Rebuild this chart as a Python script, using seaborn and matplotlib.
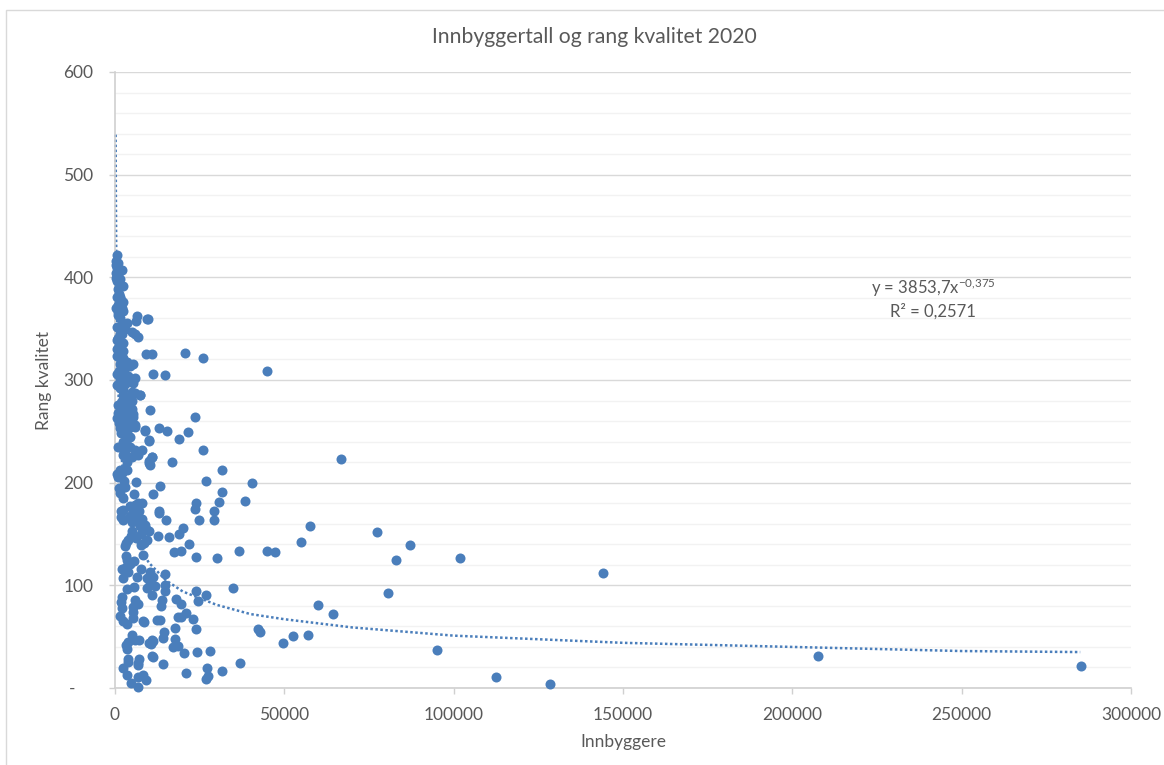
import matplotlib
matplotlib.use("Agg")
import matplotlib.pyplot as plt
from matplotlib.patches import Rectangle
from matplotlib.ticker import MultipleLocator, FuncFormatter
import seaborn as sns
import pandas as pd

# store kommuner
store_x = [285300, 207500, 144000, 128500, 112500, 101800, 95000, 87000, 83000, 80500,
           77500, 66700, 64500, 60000, 57500, 57000, 55000, 52500, 49500, 47300,
           45000, 45000, 42700, 42300, 38400, 40500, 37000, 36500, 34800, 31700,
           31500, 30800, 31500, 29300, 29300, 30000, 28000, 27000, 27200, 27500,
           27000, 27000, 26000, 26000, 20700, 23500, 21500, 18800, 15500, 13000,
           14800, 11200, 11000, 9300, 9400, 10300, 7300, 16900, 24000, 23700,
           24900, 24000, 15000, 13000, 13000, 13300, 11300, 11000, 10300, 10000,
           10000, 8800, 16000, 12700, 20000, 19000, 17400, 19500, 21800, 14800,
           14800, 14800, 24000, 24500, 18000, 19500, 21000, 19500, 18700, 23000,
           24000, 17700, 17700, 14500, 14200, 12500, 13300, 13500, 14000, 18700,
           17000, 20500, 21000, 24200, 14200, 11000, 11000, 10000, 8300]
store_y = [21, 31, 112, 4, 11, 127, 37, 139, 125, 93,
           152, 223, 72, 81, 158, 52, 142, 51, 44, 132,
           309, 133, 55, 57, 182, 200, 24, 133, 97, 212,
           191, 181, 17, 164, 172, 127, 36, 91, 19, 12,
           9, 202, 232, 321, 326, 264, 249, 243, 250, 253,
           305, 306, 325, 325, 359, 271, 285, 220, 180, 174,
           164, 128, 164, 170, 172, 197, 189, 225, 217, 221,
           242, 250, 147, 148, 156, 150, 132, 133, 140, 111,
           100, 94, 94, 85, 87, 82, 73, 69, 69, 67,
           57, 58, 48, 55, 49, 66, 66, 80, 86, 41,
           40, 34, 15, 35, 23, 31, 47, 44, 65]

# tett klynge, lav rang
nedre_x = [6100, 5500, 2460, 1470, 1000, 2000, 3400, 2650, 2950, 8070,
           6890, 5900, 4430, 2460, 5400, 7180, 1670, 2260, 4430, 6400,
           7870, 4920, 6890, 8850, 10130, 9350, 7570, 5110, 9350, 8650,
           7570, 3930, 3250, 2950, 8170, 3250, 3440, 5600, 4430, 1970,
           3930, 2460, 6400, 7670, 10330, 11300, 9350, 10330, 11800, 9350,
           10800, 5700, 3440, 1970, 1670, 2160, 5900, 6890, 5210, 5410,
           5410, 1470, 2460, 3440, 8460, 5110, 5900, 7180, 3930, 3250,
           3440, 11300, 10630, 3840, 3840, 7080, 6890, 6890, 2260, 3440,
           4620, 6890, 8360, 9050, 6890, 11300, 3300, 4800, 6300, 7400]
nedre_y = [201, 189, 185, 190, 206, 209, 212, 202, 196, 180,
           180, 178, 177, 173, 173, 172, 167, 164, 168, 167,
           165, 162, 162, 159, 153, 154, 150, 153, 144, 141,
           139, 144, 141, 138, 130, 129, 125, 124, 121, 116,
           113, 107, 108, 116, 113, 108, 107, 103, 99, 97,
           91, 98, 96, 89, 84, 78, 86, 82, 79, 74,
           68, 70, 65, 62, 64, 52, 47, 47, 45, 42,
           38, 46, 43, 28, 25, 28, 24, 22, 19, 13,
           5, 11, 13, 8, 1, 30, 118, 148, 146, 158]

# tett klynge, hoy rang
ovre_x = [490, 200, 980, 490, 1960, 300, 980, 250, 1470, 2460,
          980, 490, 1470, 2460, 980, 200, 1970, 2460, 980, 1470,
          3440, 2460, 2950, 4920, 5900, 6690, 6390, 6200, 9640, 980,
          490, 1970, 2460, 980, 490, 1470, 2460, 3440, 5400, 4430,
          1470, 1970, 490, 2460, 1470, 5900, 5210, 4920, 490, 1470,
          2460, 4920, 5900, 7380, 2460, 980, 2950, 4920, 3930, 1470,
          5400, 490, 1970, 5400, 2460, 1470, 5900, 4430, 8850, 3440,
          3440, 2460, 10130, 980, 2950, 4430, 5900, 7870, 6890, 2460,
          4920, 10820, 10130, 2950, 1470, 400, 700, 1200, 1700, 2100,
          600, 1100, 1500, 2200, 800, 1300, 1800, 2600, 3100, 3700,
          4100, 3000, 3600, 4500, 3900, 3300, 600, 1200, 1900, 2700,
          3500, 4200, 5000, 6000, 500, 1000, 1600, 2300, 2800, 3200]
ovre_y = [422, 416, 414, 409, 407, 404, 401, 399, 398, 392,
          389, 381, 381, 376, 373, 370, 370, 367, 363, 360,
          356, 355, 350, 347, 345, 342, 362, 357, 359, 341,
          339, 336, 336, 331, 323, 324, 321, 318, 316, 314,
          316, 311, 306, 306, 301, 302, 297, 300, 295, 292,
          290, 288, 287, 285, 285, 276, 277, 272, 267, 270,
          267, 263, 263, 264, 253, 253, 254, 254, 251, 248,
          243, 240, 241, 235, 233, 235, 232, 232, 227, 227,
          225, 225, 219, 214, 212, 412, 396, 384, 378, 345,
          330, 309, 298, 280, 268, 258, 248, 262, 296, 304,
          282, 238, 226, 244, 258, 272, 208, 195, 172, 230,
          220, 262, 280, 256, 352, 366, 345, 328, 308, 270]

# trendlinje, avlest langs den prikkede kurven
trend_x = [190, 250, 400, 700, 1000, 1500, 2000, 3000, 4000, 5000, 7000, 10000,
           15000, 20000, 30000, 40000, 50000, 70000, 100000, 150000, 200000, 250000, 285000]
trend_y = [539, 486, 407, 330, 289, 248, 223, 191, 172, 158, 139, 122,
           105, 94, 81, 72, 67, 59, 51, 44, 40, 36, 35]

TEKST = "#595959"
PUNKT = "#4a7ebb"

sns.set_style("white")
plt.rcParams["font.family"] = ["Lato", "DejaVu Sans"]
plt.rcParams["mathtext.default"] = "regular"

df = pd.DataFrame({"Innbyggere": store_x + nedre_x + ovre_x,
                   "Rang kvalitet": store_y + nedre_y + ovre_y})
trend = pd.DataFrame({"x": trend_x, "y": trend_y})

fig = plt.figure(figsize=(11.64, 7.65), dpi=100)
ax = fig.add_axes([115 / 1164, 1 - 688 / 765, 1016 / 1164, 616 / 765])

sns.lineplot(data=trend, x="x", y="y", ax=ax, color=PUNKT, linestyle=(0, (1, 1)),
             linewidth=1.8, zorder=2, clip_on=False)
sns.scatterplot(data=df, x="Innbyggere", y="Rang kvalitet", ax=ax, color=PUNKT, s=52,
                linewidth=0, alpha=1, zorder=3, clip_on=False)

ax.set_xlim(0, 300000)
ax.set_ylim(0, 600)
ax.xaxis.set_major_locator(MultipleLocator(50000))
ax.yaxis.set_major_locator(MultipleLocator(100))
ax.yaxis.set_minor_locator(MultipleLocator(20))
# Excel-formatet gir "-" for null, litt inn fra hoyre
ax.yaxis.set_major_formatter(FuncFormatter(lambda v, p: "-    " if v == 0 else f"{v:.0f}"))
ax.grid(True, which="major", axis="y", color="#d9d9d9", linewidth=1)
ax.grid(True, which="minor", axis="y", color="#f2f2f2", linewidth=1)
ax.grid(False, axis="x")
ax.set_axisbelow(True)
for side in ["top", "right"]:
    ax.spines[side].set_visible(False)
for side in ["left", "bottom"]:
    ax.spines[side].set_color("#d0d0d0")
    ax.spines[side].set_linewidth(1.2)
ax.tick_params(axis="both", which="major", length=4.5, width=1, color="#d0d0d0",
               labelcolor=TEKST, labelsize=12.5, left=True, bottom=True)
ax.tick_params(axis="x", which="major", pad=9)
ax.tick_params(axis="y", which="major", pad=11)
ax.tick_params(axis="y", which="minor", length=0)

ax.set_xlabel("Innbyggere", color=TEKST, fontsize=12.5, labelpad=8)
ax.set_ylabel("Rang kvalitet", color=TEKST, fontsize=12.5, labelpad=8)
fig.text(594 / 1164, 1 - 37 / 765, "Innbyggertall og rang kvalitet 2020", color=TEKST,
         fontsize=15.2, ha="center", va="center")

ax.text(241500, 390, "y = 3853,7x$^{-0{,}375}$", color=TEKST, fontsize=12, ha="center", va="center")
ax.text(241500, 367, "R² = 0,2571", color=TEKST, fontsize=12, ha="center", va="center")

# ramme rundt diagrammet
fig.add_artist(Rectangle((6 / 1164, -0.02), 1.1, 1 - 10 / 765 + 0.02, transform=fig.transFigure,
                         fill=False, edgecolor="#d9d9d9", linewidth=1))

fig.savefig("out.png", dpi=100)
